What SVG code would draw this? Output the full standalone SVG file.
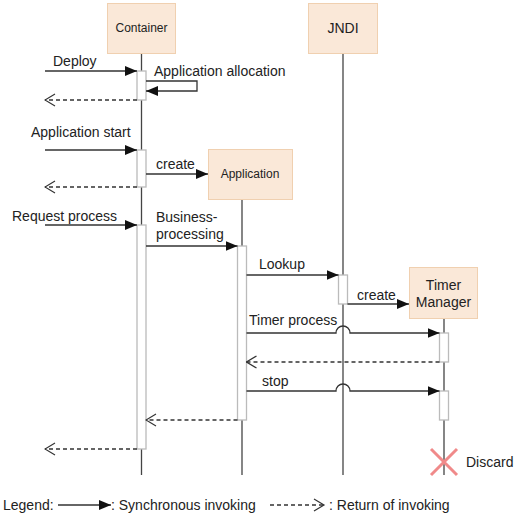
<svg xmlns="http://www.w3.org/2000/svg" width="517" height="516" viewBox="0 0 517 516">
<defs>
<style>
text{font-family:"Liberation Sans",Arial,sans-serif;fill:#222;font-size:14px}
.box{fill:#fae8d8;stroke:#f0d0b0;stroke-width:1}
.life{stroke:#444;stroke-width:1.3;fill:none}
.act{fill:#fff;stroke:#bbb;stroke-width:1.3}
.msg{stroke:#333;stroke-width:1.3;fill:none}
.ret{stroke:#333;stroke-width:1.3;fill:none;stroke-dasharray:4,3}
.small{font-size:12px}
</style>
<marker id="sync" markerWidth="12" markerHeight="10" refX="12" refY="5" orient="auto" markerUnits="userSpaceOnUse">
<path d="M0,0 L12,5 L0,10 Z" fill="#111"/>
</marker>
<marker id="open" markerWidth="12" markerHeight="14" refX="11" refY="7" orient="auto" markerUnits="userSpaceOnUse">
<path d="M1,1 L11,7 L1,13" fill="none" stroke="#333" stroke-width="1.2"/>
</marker>
</defs>
<rect width="517" height="516" fill="#fff"/>
<g id="lifelines">
<line class="life" x1="141.5" y1="53" x2="141.5" y2="475"/>
<line class="life" x1="242" y1="199" x2="242" y2="475"/>
<line class="life" x1="343" y1="53" x2="343" y2="475"/>
<line class="life" x1="444" y1="318" x2="444" y2="475"/>
</g>
<g id="container">
<rect class="box" x="107.5" y="3.5" width="68" height="50"/>
<text class="small" x="141.5" y="32" text-anchor="middle">Container</text>
</g>
<g id="application">
<rect class="box" x="208.5" y="149.5" width="84" height="50"/>
<text class="small" x="250" y="178" text-anchor="middle">Application</text>
</g>
<g id="jndi">
<rect class="box" x="308.5" y="3.5" width="69" height="50"/>
<text x="343" y="33" text-anchor="middle">JNDI</text>
</g>
<g id="timer-manager">
<rect class="box" x="409.5" y="267.5" width="68" height="51"/>
<text x="443.5" y="290" text-anchor="middle">Timer</text>
<text x="443.5" y="307" text-anchor="middle">Manager</text>
</g>
<g id="activations">
<rect class="act" x="137" y="71" width="9" height="29"/>
<rect class="act" x="137" y="150" width="9" height="37"/>
<rect class="act" x="137" y="225" width="9" height="224"/>
<rect class="act" x="237.5" y="246" width="9" height="174"/>
<rect class="act" x="338.5" y="275" width="9" height="29"/>
<rect class="act" x="439.5" y="333" width="9" height="29"/>
<rect class="act" x="439.5" y="391" width="9" height="29"/>
</g>
<g id="connectors">
<line class="msg" x1="45" y1="71" x2="137" y2="71" marker-end="url(#sync)"/>
<polyline class="msg" points="146,81 197,81 197,91 146,91" marker-end="url(#sync)"/>
<line class="ret" x1="137" y1="100" x2="45" y2="100" marker-end="url(#open)"/>
<line class="msg" x1="45" y1="150" x2="137" y2="150" marker-end="url(#sync)"/>
<line class="msg" x1="146" y1="174" x2="208" y2="174" marker-end="url(#sync)"/>
<line class="ret" x1="137" y1="187" x2="45" y2="187" marker-end="url(#open)"/>
<line class="msg" x1="45" y1="225" x2="137" y2="225" marker-end="url(#sync)"/>
<line class="msg" x1="146" y1="246" x2="237.5" y2="246" marker-end="url(#sync)"/>
<line class="msg" x1="246.5" y1="275" x2="338.5" y2="275" marker-end="url(#sync)"/>
<line class="msg" x1="347.5" y1="304" x2="409" y2="304" marker-end="url(#sync)"/>
<path class="msg" d="M246.5,333 H336 A7,7 0 0 1 350,333 H439.5" marker-end="url(#sync)"/>
<line class="ret" x1="439.5" y1="362" x2="246.5" y2="362" marker-end="url(#open)"/>
<path class="msg" d="M246.5,391 H336 A7,7 0 0 1 350,391 H439.5" marker-end="url(#sync)"/>
<line class="ret" x1="237.5" y1="420" x2="146" y2="420" marker-end="url(#open)"/>
<line class="ret" x1="137" y1="449" x2="45" y2="449" marker-end="url(#open)"/>
</g>
<g id="labels">
<text x="53" y="66">Deploy</text>
<text x="154" y="76">Application allocation</text>
<text x="31" y="137">Application start</text>
<text x="156" y="169">create</text>
<text x="12" y="221">Request process</text>
<text x="156" y="222">Business-</text>
<text x="156" y="239">processing</text>
<text x="259" y="269">Lookup</text>
<text x="357" y="300">create</text>
<text x="249" y="325">Timer process</text>
<text x="262" y="386">stop</text>
</g>
<g id="discard">
<path d="M431,449 L457,475 M457,449 L431,475" stroke="#f08a8a" stroke-width="3" fill="none"/>
<text x="466" y="467">Discard</text>
</g>
<g id="legend">
<text x="3" y="510">Legend:</text>
<line class="msg" x1="58" y1="505" x2="111" y2="505" marker-end="url(#sync)"/>
<text x="111" y="510">: Synchronous invoking</text>
<line class="ret" x1="270" y1="505" x2="324" y2="505"/>
<path d="M314,499 L324,505 L314,511" fill="none" stroke="#333" stroke-width="1.2"/>
<text x="329" y="510">: Return of invoking</text>
</g>
</svg>
